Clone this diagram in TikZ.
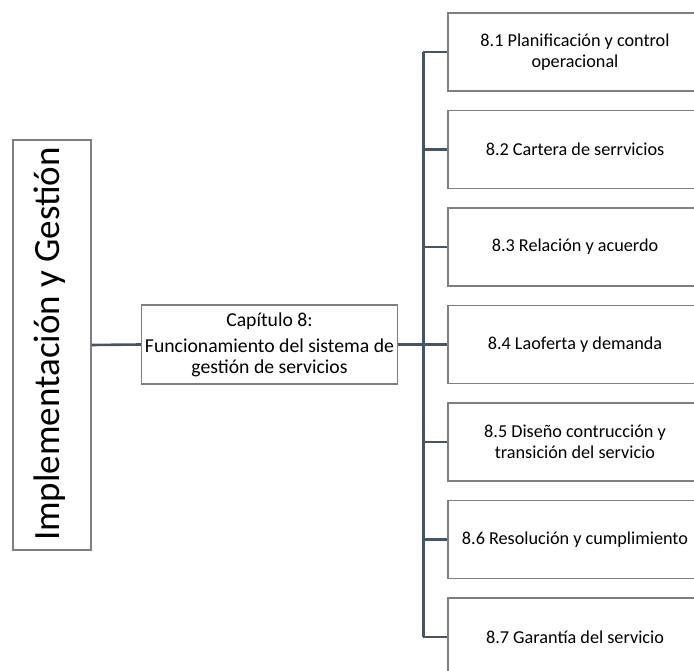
\documentclass[tikz,border=0pt]{standalone}
\usepackage{fontspec}
\setmainfont{Carlito}
\definecolor{linkcol}{HTML}{44546A}
\definecolor{framecol}{HTML}{7F7F7F}
\begin{document}
\begin{tikzpicture}[x=1pt,y=-1pt,
  box/.style={draw=framecol,line width=1.1pt,fill=white,inner sep=2pt,align=center},
  cbox/.style={box,font=\fontsize{19.7}{20.5}\selectfont},
  rbox/.style={box,minimum width=254pt,minimum height=78pt,
    font=\fontsize{18.2}{21}\selectfont},
  link/.style={draw=linkcol,line width=2.6pt},
  spine/.style={draw=linkcol,line width=3pt}]
\useasboundingbox (0,0) rectangle (694,671);
\clip (0,0) rectangle (694,671);

% root box with rotated title
\node[box,minimum width=78pt,minimum height=410pt] (root) at (52,345) {};
\node[rotate=90,font=\fontsize{37}{40}\selectfont] (roottxt) at (49.5,344) {Implementación y Gestión};

% chapter box
\node[cbox,minimum width=256pt,minimum height=79pt] (chap) at (269.5,344.5)
  {Capítulo 8:\\[6pt]Funcionamiento del sistema de\\gestión de servicios};

% section boxes
\node[rbox] (s1) at (575,52)    {8.1 Planificación y control\\operacional};
\node[rbox] (s2) at (575,149.5) {8.2 Cartera de serrvicios};
\node[rbox] (s3) at (575,247)   {8.3 Relación y acuerdo};
\node[rbox] (s4) at (575,344.5) {8.4 Laoferta y demanda};
\node[rbox] (s5) at (575,442)   {8.5 Diseño contrucción y\\transición del servicio};
\node[rbox] (s6) at (575,539.5) {8.6 Resolución y cumplimiento};
\node[rbox] (s7) at (575,637)   {8.7 Garantía del servicio};

% connectors
\coordinate (sp) at (423,0);
\draw[link] (root.east) -- (chap.west);
\draw[link] (chap.east) -- (s4.west);
\draw[spine] (sp |- s1.west) -- (sp |- s7.west);
\foreach \s in {s1,s2,s3,s5,s6,s7}
  \draw[link] (\s.west) -- (sp |- \s.west);
\end{tikzpicture}
\end{document}
